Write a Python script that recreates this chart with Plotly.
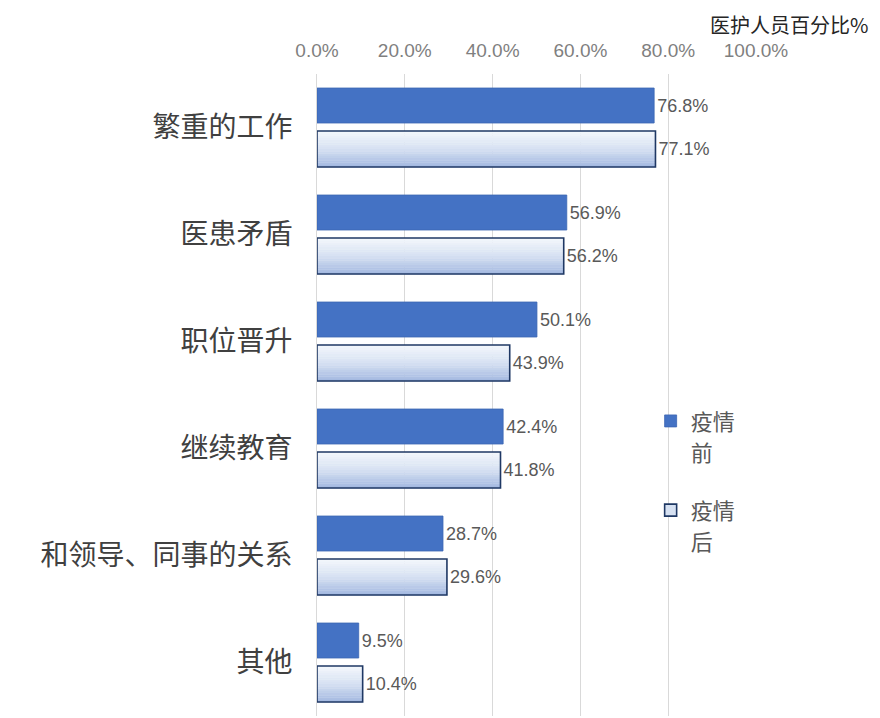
import plotly.graph_objects as go

categories = ["繁重的工作", "医患矛盾", "职位晋升", "继续教育", "和领导、同事的关系", "其他"]
before_vals = [0.768, 0.569, 0.501, 0.424, 0.287, 0.095]
after_vals = [0.771, 0.562, 0.439, 0.418, 0.296, 0.104]
series_first_line = ["疫情", "疫情"]
series_second_line = ["前", "后"]
tick_vals = [0.0, 0.2, 0.4, 0.6, 0.8, 1.0]
axis_title = "医护人员百分比%"

CJK = "Noto Sans CJK SC"
NUM = "Liberation Sans, Arial, sans-serif"

before_off, before_w = -0.369, 0.327
after_off, after_w = 0.033, 0.336

fig = go.Figure()

fig.add_trace(go.Bar(
    y=categories, x=before_vals, orientation="h", name=series_first_line[0],
    offset=before_off, width=before_w,
    marker=dict(color="#4472c4", line=dict(color="#3b66b3", width=0.8)),
    texttemplate="%{x:.1%}", textposition="outside",
    textfont=dict(family=NUM, size=18, color="#595959"),
    cliponaxis=False, legendgroup="a", showlegend=True, hoverinfo="skip",
))
fig.add_trace(go.Bar(
    y=[categories[0]], x=[None], orientation="h", name=series_second_line[0],
    marker=dict(color="rgba(0,0,0,0)", line=dict(width=0)),
    legendgroup="a", showlegend=True, hoverinfo="skip",
))

# gradient for the "after" bars built from horizontal stripes
top = (0xf4, 0xf7, 0xfc)
mid = (0xd6, 0xe1, 0xf2)
bot = (0xa2, 0xb7, 0xe0)
N = 16
for i in range(N):
    t = (i + 0.5) / N
    if t < 0.5:
        a, b, u = top, mid, t / 0.5
    else:
        a, b, u = mid, bot, (t - 0.5) / 0.5
    c = tuple(int(round(a[k] + (b[k] - a[k]) * u)) for k in range(3))
    fig.add_trace(go.Bar(
        y=categories, x=after_vals, orientation="h",
        offset=after_off + i * after_w / N, width=after_w / N + 0.002,
        marker=dict(color="rgb(%d,%d,%d)" % c, line=dict(width=0)),
        showlegend=False, hoverinfo="skip",
    ))

fig.add_trace(go.Bar(
    y=categories, x=after_vals, orientation="h",
    offset=after_off, width=after_w,
    marker=dict(color="rgba(0,0,0,0)", line=dict(color="#1f3864", width=1.6)),
    texttemplate="%{x:.1%}", textposition="outside",
    textfont=dict(family=NUM, size=18, color="#595959"),
    cliponaxis=False, showlegend=False, hoverinfo="skip",
))

# legend entries for the "after" series
fig.add_trace(go.Bar(
    y=[categories[0]], x=[None], orientation="h", name=series_first_line[1],
    marker=dict(color="#d6e1f2", line=dict(color="#1f3864", width=1.6)),
    legendgroup="b", showlegend=True, hoverinfo="skip",
))
fig.add_trace(go.Bar(
    y=[categories[0]], x=[None], orientation="h", name=series_second_line[1],
    marker=dict(color="rgba(0,0,0,0)", line=dict(width=0)),
    legendgroup="b", showlegend=True, hoverinfo="skip",
))

L, T = 309, 66
PW, PH = 439, 642

fig.update_layout(
    width=880, height=718,
    margin=dict(l=L, r=880 - L - PW, t=T, b=718 - T - PH),
    paper_bgcolor="white", plot_bgcolor="white",
    barmode="overlay",
    showlegend=True,
    legend=dict(
        x=0.76, y=0.492, xanchor="left", yanchor="top",
        font=dict(family=CJK, size=22, color="#595959"),
        bgcolor="rgba(0,0,0,0)", valign="middle",
        traceorder="grouped", tracegroupgap=26,
    ),
    xaxis=dict(
        side="top", range=[0, 1.0], tickvals=tick_vals, tickformat=".1%",
        showgrid=True, gridcolor="#d9d9d9", gridwidth=1, zeroline=False,
        showline=False, ticks="", ticklabelstandoff=12,
        tickfont=dict(family=NUM, size=19, color="#7f7f7f"),
    ),
    yaxis=dict(
        type="category", categoryorder="array", categoryarray=categories,
        range=[5.5, -0.5], showgrid=False, zeroline=False,
        showline=True, linecolor="#d9d9d9", linewidth=1,
        ticks="", ticklabelstandoff=18,
        tickfont=dict(family=CJK, size=28, color="#404040"),
    ),
    annotations=[dict(
        text=axis_title, xref="paper", yref="paper",
        x=(862 - L) / PW, y=(T + PH - 16) / PH,
        xanchor="right", yanchor="middle", showarrow=False,
        font=dict(family=CJK, size=20, color="#262626"),
    )],
)

fig.write_html("out.html")
